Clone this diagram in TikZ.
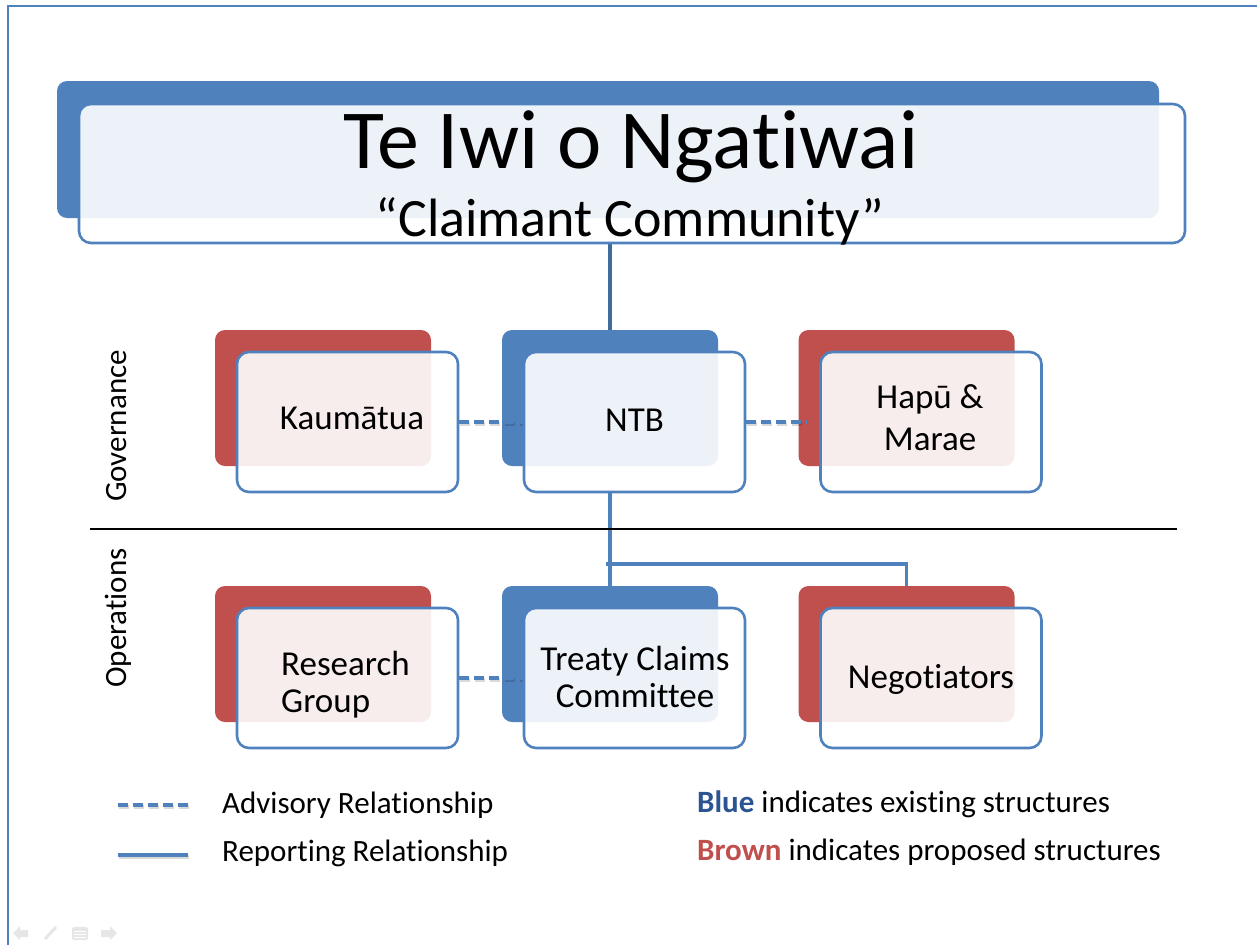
\documentclass[tikz,border=0pt]{standalone}
\usepackage{fontspec}
\setmainfont{Carlito}[RawFeature={-liga;-clig;-dlig;-calt}]
\newcommand{\nlg}{\kern0pt }
\definecolor{accB}{HTML}{4F81BD}
\definecolor{accR}{HTML}{C0504D}
\definecolor{connD}{HTML}{3F6B9F}
\definecolor{txtB}{HTML}{2A5591}
\definecolor{navg}{HTML}{E6E6E6}
\begin{document}
\begin{tikzpicture}[x=1pt,y=-1pt,
  backB/.style={fill=accB, rounded corners=10pt, inner sep=0pt, minimum width=216pt, minimum height=136pt},
  backR/.style={backB, fill=accR},
  frontbox/.style={draw=accB, line width=2.6pt, fill=white, fill opacity=0.9, rounded corners=12pt, inner sep=0pt, minimum width=221pt, minimum height=140pt},
  boxtext/.style={font=\fontsize{35}{42}\selectfont, anchor=base, inner sep=0pt},
  legtext/.style={font=\fontsize{31}{36}\selectfont, anchor=base west, inner sep=0pt},
  sidetext/.style={font=\fontsize{31}{36}\selectfont, anchor=base, rotate=90, inner sep=0pt},
  report/.style={draw=accB, line width=3.2pt},
  reportD/.style={draw=connD, line width=3.2pt},
  advisory/.style={draw=accB, line width=3.8pt, dash pattern=on 10pt off 5pt},
  lineshadow/.style={draw=black, draw opacity=0.15, line width=3.5pt},
  dashshadow/.style={lineshadow, dash pattern=on 10pt off 5pt},
]
\useasboundingbox (0,0) rectangle (1257,945);
% slide frame
\coordinate (frTR) at (1257,6);
\coordinate (frTL) at (8,6);
\coordinate (frBL) at (8,945);
\draw[accB, line width=2pt] (frTR) -- (frTL) -- (frBL);

% title
\node[backB, minimum width=1102pt, minimum height=137pt] (titleB) at (608,149.5) {};
% back boxes
\node[backR] (kauB) at (323,398) {};
\node[backB] (ntbB) at (610,398) {};
\node[backR] (hapB) at (906.5,398) {};
\node[backR] (resB) at (323,654) {};
\node[backB] (tccB) at (610,654) {};
\node[backR] (negB) at (906.5,654) {};

% reporting connectors
\node[frontbox, minimum width=1106pt, minimum height=139pt, fill opacity=0, draw opacity=0] (titleF) at (632,173.5) {};
\draw[reportD] (ntbB.north |- titleF.south) -- (ntbB.north);
\coordinate (junc) at (606,564);
\draw[report] (tccB.north |- 0,491) -- (tccB.north);
\draw[report] (junc) -| (negB.north);

% front boxes (declared for advisory lines)
\node[frontbox, fill opacity=0, draw opacity=0] (kauF) at (347.5,422) {};
\node[frontbox, fill opacity=0, draw opacity=0] (ntbF) at (634.5,422) {};
\node[frontbox, fill opacity=0, draw opacity=0] (hapF) at (931,422) {};
\node[frontbox, fill opacity=0, draw opacity=0] (resF) at (347.5,678) {};
\node[frontbox, fill opacity=0, draw opacity=0] (tccF) at (634.5,678) {};
\node[frontbox, fill opacity=0, draw opacity=0] (negF) at (931,678) {};

% advisory connectors
\draw[dashshadow] ([shift={(1pt,-2pt)}]kauF.east) -- ([shift={(1pt,-2pt)}]ntbF.west);
\draw[advisory] (kauF.east) -- (ntbF.west);
\draw[dashshadow] ([shift={(1pt,-2pt)}]ntbF.east) -- ([shift={(-12pt,-2pt)}]hapF.west);
\draw[advisory] (ntbF.east) -- ([xshift=-12pt]hapF.west);
\draw[dashshadow] ([shift={(1pt,-2pt)}]resF.east) -- ([shift={(1pt,-2pt)}]tccF.west);
\draw[advisory] (resF.east) -- (tccF.west);

% visible front boxes
\node[frontbox, minimum width=1106pt, minimum height=139pt] (titleFv) at (titleF) {};
\node[frontbox] (kauFv) at (kauF) {};
\node[frontbox] (ntbFv) at (ntbF) {};
\node[frontbox] (hapFv) at (hapF) {};
\node[frontbox] (resFv) at (resF) {};
\node[frontbox] (tccFv) at (tccF) {};
\node[frontbox] (negFv) at (negF) {};

% texts
\node[font=\fontsize{84}{84}\selectfont, anchor=base, inner sep=0pt] (t1) at (631,168) {Te Iwi o Ngat\nlg iwai};
\node[font=\fontsize{54}{54}\selectfont, anchor=base, inner sep=0pt] (t2) at (630,236) {“Claimant Community”};
\node[boxtext] (kauT) at (352,429) {Kaumātua};
\node[boxtext] (ntbT) at (634.5,431) {NTB};
\node[boxtext] (hapT1) at (930,408) {Hapū \&};
\node[boxtext] (hapT2) at (930,450) {Marae};
\node[boxtext, anchor=base west] (resT1) at (281,675) {Research};
\node[boxtext, anchor=base west] (resT2) at (281,712) {Group};
\node[boxtext] (tccT1) at (635,670) {Treaty Claims};
\node[boxtext] (tccT2) at (635,707) {Committee};
\node[boxtext] (negT) at (931,688) {Negot\nlg iators};

% side labels and separator
\node[sidetext] (gov) at (126,426) {Governance};
\node[sidetext] (ops) at (126,618) {Operat\nlg ions};
\coordinate (sepL) at (90,529);
\coordinate (sepR) at (1177,529);
\draw[black, line width=1.5pt] (sepL) -- (sepR);

% legend
\coordinate (advA) at (118,805);
\coordinate (advB) at (188,805);
\coordinate (repA) at (118,855);
\coordinate (repB) at (188,855);
\draw[dashshadow] ([shift={(1pt,-2pt)}]advA) -- ([shift={(1pt,-2pt)}]advB);
\draw[advisory] (advA) -- (advB);
\draw[lineshadow] ([shift={(1pt,-2pt)}]repA) -- ([shift={(1pt,-2pt)}]repB);
\draw[report] (repA) -- (repB);
\node[legtext] (advT) at (222,813) {Advisory Relat\nlg ionship};
\node[legtext] (repT) at (222,861) {Report\nlg ing Relat\nlg ionship};
\node[legtext] (blueT) at (697,812) {\textbf{\color{txtB}Blue} indicates exist\nlg ing structures};
\node[legtext] (brownT) at (697,860) {\textbf{\color{accR}Brown} indicates proposed structures};

% slide-show controls
\fill[navg] (13,933) -- (20,926) -- (20,930) -- (28,930) -- (28,937) -- (20,937) -- (20,940) -- cycle;
\draw[navg, line width=3pt] (45,939) -- (56,927);
\fill[navg, rounded corners=1.5pt] (72,927) rectangle (88,940);
\draw[white, line width=0.8pt] (74,931) -- (86,931) (74,934) -- (86,934) (74,937) -- (86,937);
\fill[navg] (117,933) -- (110,926) -- (110,930) -- (101,930) -- (101,937) -- (110,937) -- (110,940) -- cycle;
\end{tikzpicture}
\end{document}
